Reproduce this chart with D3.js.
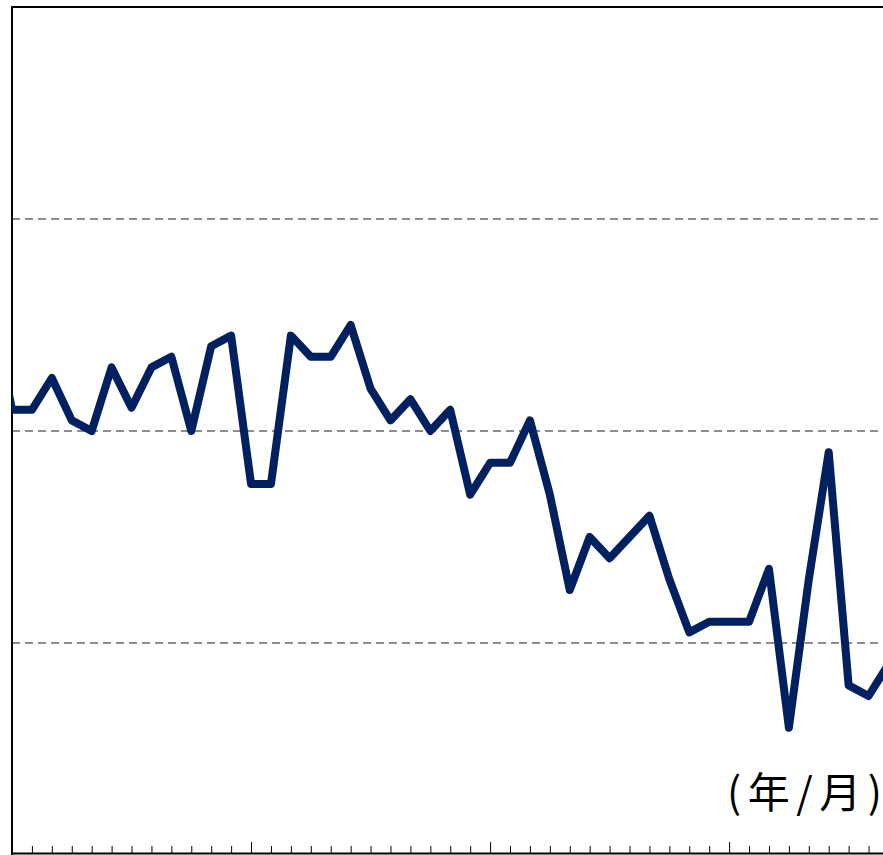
<!DOCTYPE html>
<html>
<head>
<meta charset="utf-8">
<script src="https://cdn.jsdelivr.net/npm/d3@7"></script>
<style>
  html, body { margin: 0; padding: 0; background: #fff; overflow: hidden; }
  svg { display: block; }
</style>
</head>
<body>
<svg id="chart" width="883" height="855"></svg>
<script>
// ---- data ----
const categories = [
  "2016/12",
  "2017/1","2017/2","2017/3","2017/4","2017/5","2017/6","2017/7","2017/8","2017/9","2017/10","2017/11","2017/12",
  "2018/1","2018/2","2018/3","2018/4","2018/5","2018/6","2018/7","2018/8","2018/9","2018/10","2018/11","2018/12",
  "2019/1","2019/2","2019/3","2019/4","2019/5","2019/6","2019/7","2019/8","2019/9","2019/10","2019/11","2019/12",
  "2020/1","2020/2","2020/3","2020/4","2020/5","2020/6","2020/7","2020/8","2020/9"
];
const values = [
  25.8,
  21.0, 21.0, 22.5, 20.5, 20.0, 23.0, 21.1, 23.0, 23.5, 20.0, 24.0, 24.5,
  17.5, 17.5, 24.5, 23.5, 23.5, 25.0, 22.0, 20.5, 21.5, 20.0, 21.0, 17.0,
  18.5, 18.5, 20.5, 17.0, 12.5, 15.0, 14.0, 15.0, 16.0, 13.0, 10.5, 11.0,
  11.0, 11.0, 13.5, 6.0, 13.0, 19.0, 8.0, 7.5, 9.0
];
const yDomain = [0, 40];
const yGridTicks = [10, 20, 30];
const axisLabelParts = ["(年/月", ")"];

// ---- layout ----
const svg = d3.select("#chart");
const frame = { left: 12, top: 7, right: 905, bottom: 855 };
const step = 19.92;

const x = d3.scalePoint()
  .domain(categories)
  .range([frame.left - step, frame.left - step + step * (categories.length - 1)]);
const y = d3.scaleLinear().domain(yDomain).range([frame.bottom, frame.top]);

// clip
svg.append("defs").append("clipPath").attr("id", "plotclip")
  .append("rect")
  .attr("x", frame.left).attr("y", frame.top)
  .attr("width", frame.right - frame.left).attr("height", frame.bottom - frame.top);

// gridlines
svg.append("g")
  .selectAll("line")
  .data(yGridTicks)
  .join("line")
  .attr("x1", frame.left).attr("x2", frame.right)
  .attr("y1", d => y(d)).attr("y2", d => y(d))
  .attr("stroke", "#8c8c8c")
  .attr("stroke-width", 2)
  .attr("stroke-dasharray", "8,5");

// x axis ticks
const tickCats = categories.filter(c => x(c) >= frame.left - 0.5);
const xAxis = d3.axisBottom(x)
  .tickValues(tickCats)
  .tickFormat("")
  .tickSizeOuter(0)
  .tickSizeInner(0);
const gx = svg.append("g").attr("transform", `translate(0,${frame.bottom - 1})`).call(xAxis);
gx.select(".domain").remove();
gx.selectAll(".tick line")
  .attr("y2", d => d.endsWith("/1") ? -12 : -8)
  .attr("stroke", "#000")
  .attr("stroke-width", 1);

// frame lines
svg.append("line").attr("x1", frame.left).attr("x2", frame.right)
  .attr("y1", frame.top).attr("y2", frame.top)
  .attr("stroke", "#000").attr("stroke-width", 2);
svg.append("line").attr("x1", frame.left).attr("x2", frame.left)
  .attr("y1", frame.top - 1).attr("y2", frame.bottom)
  .attr("stroke", "#000").attr("stroke-width", 2);
svg.append("line").attr("x1", frame.left - 1).attr("x2", frame.right)
  .attr("y1", frame.bottom - 1.5).attr("y2", frame.bottom - 1.5)
  .attr("stroke", "#000").attr("stroke-width", 2);

// data line
const line = d3.line()
  .x((d, i) => x(categories[i]))
  .y(d => y(d));
svg.append("path")
  .datum(values)
  .attr("clip-path", "url(#plotclip)")
  .attr("d", line)
  .attr("fill", "none")
  .attr("stroke", "#002060")
  .attr("stroke-width", 8)
  .attr("stroke-linejoin", "round")
  .attr("stroke-linecap", "round");

// axis unit label
const label = svg.append("text")
  .attr("x", 727)
  .attr("y", 808)
  .attr("text-anchor", "start")
  .attr("font-family", "'Noto Sans CJK JP', 'Noto Sans CJK SC', sans-serif")
  .attr("font-size", 42)
  .attr("fill", "#000");
label.append("tspan").attr("letter-spacing", 6.5).text(axisLabelParts[0]);
label.append("tspan").text(axisLabelParts[1]);
</script>
</body>
</html>
